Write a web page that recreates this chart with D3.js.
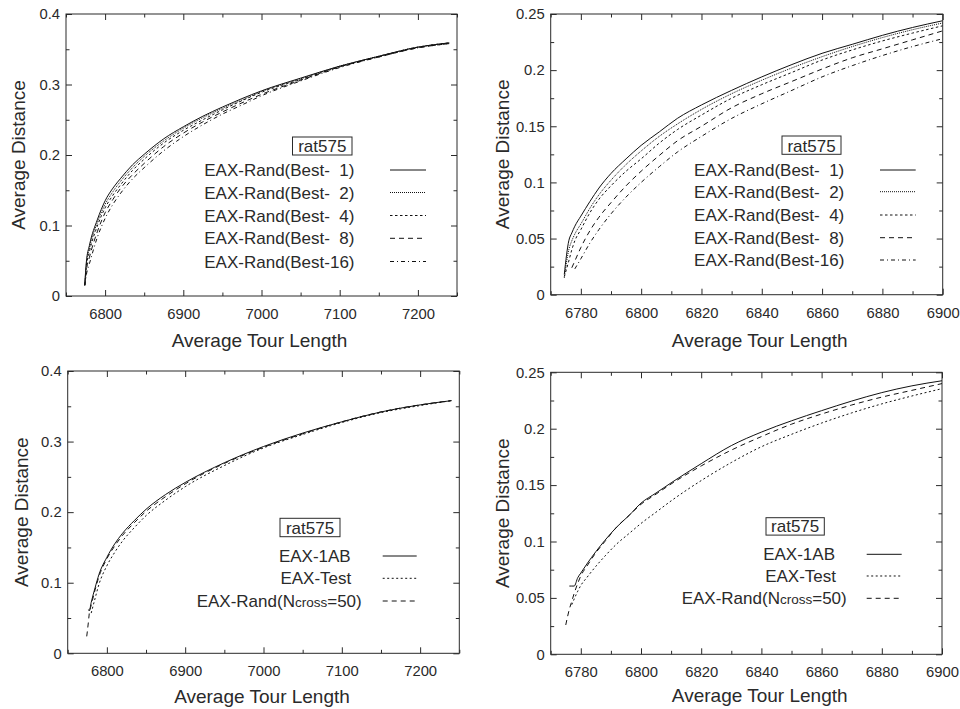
<!DOCTYPE html>
<html>
<head>
<meta charset="utf-8">
<script src="https://cdn.jsdelivr.net/npm/d3@7"></script>
<style>
  body { margin: 0; background: #fff; }
  svg { display: block; }
</style>
</head>
<body>
<svg id="chart" width="960" height="709"></svg>
<script>
const FONT = "'Liberation Sans', Arial, Helvetica, sans-serif";
const INK = "#2a2a2a";

// ---- data ----
const datasetName = "rat575";
const xTitle = "Average Tour Length";
const yTitle = "Average Distance";

const bestLabels = ["EAX-Rand(Best-  1)", "EAX-Rand(Best-  2)", "EAX-Rand(Best-  4)", "EAX-Rand(Best-  8)", "EAX-Rand(Best-16)"];
const cmpLabels = ["EAX-1AB", "EAX-Test", "EAX-Rand(Ncross=50)"];

// top-left: full range
const p1X = [6774, 6776, 6780, 6790, 6800, 6810, 6820, 6835, 6850, 6875, 6900, 6925, 6950, 6975, 7000, 7050, 7100, 7150, 7200, 7240];
const p1Best1 = [0.016, 0.048, 0.072, 0.108, 0.135, 0.153, 0.167, 0.186, 0.201, 0.223, 0.240, 0.255, 0.268, 0.280, 0.291, 0.309, 0.326, 0.340, 0.353, 0.359];
const p1Best2 = [0.016, 0.045, 0.068, 0.104, 0.130, 0.148, 0.163, 0.182, 0.198, 0.220, 0.238, 0.253, 0.266, 0.278, 0.290, 0.308, 0.326, 0.340, 0.353, 0.359];
const p1Best4 = [0.015, 0.041, 0.063, 0.099, 0.125, 0.143, 0.158, 0.178, 0.194, 0.217, 0.235, 0.250, 0.264, 0.277, 0.289, 0.307, 0.325, 0.340, 0.353, 0.359];
const p1Best8 = [0.015, 0.036, 0.055, 0.091, 0.118, 0.137, 0.153, 0.172, 0.188, 0.212, 0.231, 0.247, 0.261, 0.274, 0.286, 0.306, 0.325, 0.339, 0.352, 0.358];
const p1Best16 = [0.015, 0.030, 0.046, 0.083, 0.110, 0.130, 0.146, 0.166, 0.182, 0.206, 0.226, 0.243, 0.258, 0.271, 0.284, 0.305, 0.324, 0.339, 0.352, 0.358];
const p1XTicks = [6800, 6900, 7000, 7100, 7200];
const p1YTicks = [0, 0.1, 0.2, 0.3, 0.4];

// top-right: zoomed
const p2X = [6774.5, 6776, 6777, 6778, 6780, 6783, 6786, 6790, 6795, 6800, 6806, 6812, 6820, 6830, 6840, 6850, 6860, 6870, 6880, 6890, 6900];
const p2Best1 = [0.018, 0.048, 0.055, 0.061, 0.070, 0.083, 0.095, 0.108, 0.121, 0.133, 0.145, 0.157, 0.169, 0.182, 0.194, 0.205, 0.215, 0.223, 0.231, 0.238, 0.244];
const p2Best2 = [0.015, 0.040, 0.048, 0.054, 0.063, 0.077, 0.089, 0.102, 0.116, 0.128, 0.141, 0.152, 0.165, 0.179, 0.191, 0.202, 0.212, 0.221, 0.229, 0.236, 0.242];
const p2Best4 = [0.016, 0.030, 0.040, 0.048, 0.058, 0.073, 0.085, 0.097, 0.110, 0.121, 0.135, 0.147, 0.160, 0.175, 0.187, 0.198, 0.209, 0.218, 0.226, 0.233, 0.2395];
const p2Best8 = [null, null, 0.024, 0.030, 0.042, 0.057, 0.069, 0.082, 0.097, 0.110, 0.124, 0.137, 0.150, 0.1665, 0.179, 0.190, 0.201, 0.211, 0.219, 0.227, 0.235];
const p2Best16 = [null, null, null, 0.023, 0.032, 0.046, 0.058, 0.072, 0.087, 0.100, 0.114, 0.127, 0.141, 0.157, 0.170, 0.182, 0.194, 0.204, 0.213, 0.221, 0.228];
const p2XTicks = [6780, 6800, 6820, 6840, 6860, 6880, 6900];
const p2YTicks = [0, 0.05, 0.1, 0.15, 0.2, 0.25];

// bottom-left: full range
const p3X = [6774.3, 6776.5, 6777.5, 6780, 6785, 6790, 6800, 6810, 6820, 6835, 6850, 6875, 6900, 6950, 7000, 7050, 7100, 7150, 7200, 7240];
const p3OneAB = [null, 0.062, 0.060, 0.072, 0.093, 0.112, 0.136, 0.155, 0.170, 0.188, 0.204, 0.225, 0.242, 0.270, 0.293, 0.312, 0.328, 0.342, 0.352, 0.358];
const p3Test = [null, null, null, 0.057, 0.078, 0.098, 0.124, 0.143, 0.159, 0.178, 0.195, 0.217, 0.236, 0.266, 0.291, 0.310, 0.327, 0.341, 0.351, 0.358];
const p3Rand = [0.024, 0.045, 0.056, 0.068, 0.090, 0.109, 0.134, 0.152, 0.167, 0.185, 0.201, 0.222, 0.240, 0.269, 0.292, 0.311, 0.328, 0.342, 0.352, 0.358];

// bottom-right: zoomed
const p4X = [6775, 6776.2, 6777, 6777.8, 6779, 6780, 6782, 6785, 6788, 6792, 6796, 6800, 6805, 6810, 6820, 6830, 6840, 6850, 6860, 6870, 6880, 6890, 6900];
const p4OneAB = [null, 0.0605, 0.0605, 0.0605, 0.068, 0.072, 0.080, 0.091, 0.101, 0.113, 0.123, 0.134, 0.143, 0.152, 0.169, 0.185, 0.197, 0.207, 0.216, 0.2245, 0.232, 0.238, 0.2425];
const p4Test = [null, null, 0.044, 0.049, 0.056, 0.061, 0.068, 0.078, 0.087, 0.098, 0.107, 0.116, 0.126, 0.136, 0.154, 0.170, 0.184, 0.195, 0.205, 0.214, 0.222, 0.229, 0.2355];
const p4Rand = [0.026, 0.040, 0.047, 0.054, 0.063, 0.0695, 0.078, 0.090, 0.100, 0.113, 0.123, 0.133, 0.142, 0.151, 0.167, 0.181, 0.193, 0.204, 0.213, 0.221, 0.228, 0.234, 0.240];

// ---- styles ----
const bestDash = [null, "1,1", "2.5,2.5", "5,4", "4,3,1,3"];
const cmpDash = [null, "2,2.5", "5,4"];

const panels = [
  {
    left: 66, top: 14, w: 391, h: 282,
    xDomain: [6750, 7250], xTicks: p1XTicks, xMinorStep: 50,
    yDomain: [0, 0.4], yTicks: p1YTicks, yMinorStep: 0.05,
    xs: p1X, series: [p1Best1, p1Best2, p1Best4, p1Best8, p1Best16],
    labels: bestLabels, dashes: bestDash,
    legend: { box: [226.5, 123, 59.5, 18], rows: [156, 178.5, 201.5, 224.3, 247.5],
              textRight: [288.5, 288.5, 288.5, 288.5, 288.5], line: [324, 360] },
    xTitleX: 193.5, xTitleDy: 51, yTitleDx: -41
  },
  {
    left: 550.7, top: 14, w: 392, h: 280.7,
    xDomain: [6770, 6900], xTicks: p2XTicks, xMinorStep: 10,
    yDomain: [0, 0.25], yTicks: p2YTicks, yMinorStep: 0.025,
    xs: p2X, series: [p2Best1, p2Best2, p2Best4, p2Best8, p2Best16],
    labels: bestLabels, dashes: bestDash,
    legend: { box: [231.3, 122, 59, 18.3], rows: [156, 177.7, 201, 223.7, 246],
              textRight: [293.6, 293.6, 293.6, 293.6, 293.6], line: [329.3, 365] },
    xTitleX: 209, xTitleDy: 52, yTitleDx: -42
  },
  {
    left: 67.7, top: 371, w: 391.6, h: 282.3,
    xDomain: [6750, 7250], xTicks: p1XTicks, xMinorStep: 50,
    yDomain: [0, 0.4], yTicks: p1YTicks, yMinorStep: 0.05,
    xs: p3X, series: [p3OneAB, p3Test, p3Rand],
    labels: cmpLabels, dashes: cmpDash,
    legend: { box: [212.3, 147.3, 60, 18.4], rows: [185, 207.3, 230],
              textRight: [283, 283.6, 294], line: [315, 349] },
    xTitleX: 194.3, xTitleDy: 49.5, yTitleDx: -39.5
  },
  {
    left: 550.7, top: 372.3, w: 391.3, h: 282,
    xDomain: [6770, 6900], xTicks: p2XTicks, xMinorStep: 10,
    yDomain: [0, 0.25], yTicks: p2YTicks, yMinorStep: 0.025,
    xs: p4X, series: [p4OneAB, p4Test, p4Rand],
    labels: cmpLabels, dashes: cmpDash,
    legend: { box: [215.3, 145.4, 58.3, 17.4], rows: [182, 203.7, 226],
              textRight: [284.3, 285.3, 296], line: [316, 351] },
    xTitleX: 209, xTitleDy: 47.5, yTitleDx: -42
  }
];

const svg = d3.select("#chart");
svg.append("rect").attr("width", 960).attr("height", 709).attr("fill", "#fff");

const fmtY = (d) => String(+d.toFixed(3));

function addAxis(g, axis, transform) {
  const a = g.append("g").attr("transform", transform).call(axis);
  a.select(".domain").remove();
  a.style("color", INK)
    .attr("font-family", FONT)
    .attr("font-size", 14.8);
  a.selectAll("line").attr("stroke-width", 1);
  return a;
}

function legendText(sel, label) {
  // "Ncross" is set with the "cross" part in a smaller size
  const m = label.match(/^(.*N)(cross)(.*)$/);
  if (!m) {
    sel.text(label);
    return;
  }
  sel.append("tspan").text(m[1]);
  sel.append("tspan").attr("font-size", 13.5).text(m[2]);
  sel.append("tspan").text(m[3]);
}

panels.forEach((p, pi) => {
  const g = svg.append("g").attr("transform", `translate(${p.left},${p.top})`);
  const x = d3.scaleLinear().domain(p.xDomain).range([0, p.w]);
  const y = d3.scaleLinear().domain(p.yDomain).range([p.h, 0]);

  const xMinor = d3.range(p.xDomain[0], p.xDomain[1] + 1e-9, p.xMinorStep)
    .filter((v) => !p.xTicks.includes(v));
  const yMinor = d3.range(p.yDomain[0], p.yDomain[1] + 1e-9, p.yMinorStep)
    .map((v) => +v.toFixed(4))
    .filter((v) => !p.yTicks.some((t) => Math.abs(t - v) < 1e-6));

  // minor ticks, all four sides, pointing in
  addAxis(g, d3.axisBottom(x).tickValues(xMinor).tickSize(-3.5).tickFormat(""), `translate(0,${p.h})`);
  addAxis(g, d3.axisTop(x).tickValues(xMinor).tickSize(-3.5).tickFormat(""), "translate(0,0)");
  addAxis(g, d3.axisLeft(y).tickValues(yMinor).tickSize(-3.5).tickFormat(""), "translate(0,0)");
  addAxis(g, d3.axisRight(y).tickValues(yMinor).tickSize(-3.5).tickFormat(""), `translate(${p.w},0)`);

  // major ticks
  addAxis(g, d3.axisBottom(x).tickValues(p.xTicks).tickSize(-6).tickPadding(12.5).tickFormat(d3.format("d")),
    `translate(0,${p.h})`);
  addAxis(g, d3.axisTop(x).tickValues(p.xTicks).tickSize(-6).tickFormat(""), "translate(0,0)");
  addAxis(g, d3.axisLeft(y).tickValues(p.yTicks).tickSize(-6).tickPadding(6).tickFormat(fmtY), "translate(0,0)");
  addAxis(g, d3.axisRight(y).tickValues(p.yTicks).tickSize(-6).tickFormat(""), `translate(${p.w},0)`);

  // frame
  g.append("rect")
    .attr("width", p.w)
    .attr("height", p.h)
    .attr("fill", "none")
    .attr("stroke", INK)
    .attr("stroke-width", 1);

  // curves
  const clipId = `clip${pi}`;
  g.append("clipPath").attr("id", clipId)
    .append("rect").attr("width", p.w).attr("height", p.h);

  const line = d3.line()
    .defined((d) => d.y != null)
    .curve(d3.curveMonotoneX)
    .x((d) => x(d.x))
    .y((d) => y(d.y));

  p.series.forEach((vals, si) => {
    const pts = p.xs.map((xv, i) => ({ x: xv, y: vals[i] }));
    g.append("path")
      .datum(pts)
      .attr("clip-path", `url(#${clipId})`)
      .attr("fill", "none")
      .attr("stroke", "#111")
      .attr("stroke-width", 1)
      .attr("stroke-dasharray", p.dashes[si])
      .attr("d", line);
  });

  // legend
  const L = p.legend;
  const lg = g.append("g").attr("font-family", FONT).attr("font-size", 17).attr("fill", INK);
  lg.append("rect")
    .attr("x", L.box[0]).attr("y", L.box[1])
    .attr("width", L.box[2]).attr("height", L.box[3])
    .attr("fill", "#fff").attr("stroke", INK).attr("stroke-width", 1);
  lg.append("text")
    .attr("x", L.box[0] + L.box[2] / 2)
    .attr("y", L.box[1] + L.box[3] - 2.8)
    .attr("text-anchor", "middle")
    .text(datasetName);

  p.labels.forEach((lab, i) => {
    const t = lg.append("text")
      .attr("x", L.textRight[i])
      .attr("y", L.rows[i] + 6)
      .attr("text-anchor", "end")
      .attr("xml:space", "preserve")
      .style("white-space", "pre");
    legendText(t, lab);
    lg.append("line")
      .attr("x1", L.line[0]).attr("x2", L.line[1])
      .attr("y1", L.rows[i]).attr("y2", L.rows[i])
      .attr("stroke", "#111")
      .attr("stroke-width", 1)
      .attr("stroke-dasharray", p.dashes[i]);
  });

  // axis titles
  g.append("text")
    .attr("x", p.xTitleX)
    .attr("y", p.h + p.xTitleDy)
    .attr("text-anchor", "middle")
    .attr("font-family", FONT)
    .attr("font-size", 19)
    .attr("fill", INK)
    .text(xTitle);
  g.append("text")
    .attr("transform", `translate(${p.yTitleDx},${p.h / 2}) rotate(-90)`)
    .attr("text-anchor", "middle")
    .attr("font-family", FONT)
    .attr("font-size", 19)
    .attr("fill", INK)
    .text(yTitle);
});
</script>
</body>
</html>
